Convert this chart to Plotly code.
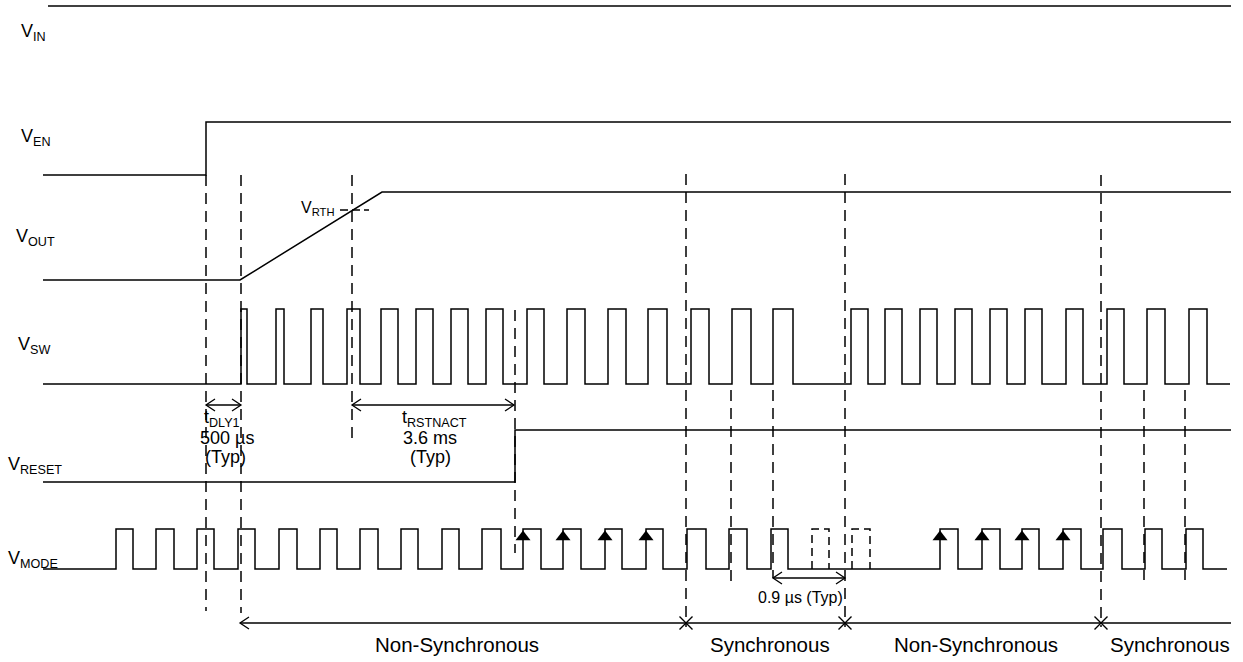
import plotly.graph_objects as go

# ---------------- data (diagram units: time -> x, level -> y) ----------------
T_START = 43
T_END = 1231

VIN_T0 = 48
VIN_LEVEL = 6

VEN_EDGE = 206
VEN_LOW, VEN_HIGH = 175, 122

VOUT_LOW, VOUT_HIGH = 280, 192
VOUT_RAMP_START, VOUT_RAMP_END = 240, 382
VRTH_T, VRTH_LEVEL = 352, 210

VSW_LOW, VSW_HIGH = 384, 309
VSW_RISE = [241, 276, 311, 347, 381, 416, 451, 486, 527, 567, 608, 648, 691, 732, 773,
            851, 885, 920, 955, 990, 1025, 1066, 1107, 1147, 1189]
VSW_FALL = [247, 284, 323, 360, 398, 433, 468, 503, 544, 585, 626, 667, 709, 751, 793,
            868, 902, 937, 972, 1007, 1042, 1083, 1124, 1165, 1207]
VSW_END = 1230

VRESET_EDGE = 515
VRESET_LOW, VRESET_HIGH = 482, 430

VMODE_LOW, VMODE_HIGH = 569, 529
VMODE_RISE = [116, 156, 197, 238, 279, 320, 360, 401, 442, 482, 523, 563, 605, 646, 687,
              729, 771, 940, 982, 1022, 1063, 1103, 1145, 1186]
VMODE_FALL = [133, 174, 214, 255, 297, 337, 378, 418, 459, 501, 541, 581, 622, 663, 706,
              747, 788, 958, 1000, 1039, 1081, 1122, 1162, 1203]
VMODE_DASH_RISE = [812, 852]
VMODE_DASH_FALL = [829, 870]
VMODE_ARROWS = [523, 563, 605, 646, 940, 982, 1022, 1063]
VMODE_END = 1227

# dashed markers: (time, top, bottom)
MARK_T = [206, 241, 352, 515, 686, 731, 773, 845, 1101, 1144, 1185]
MARK_TOP = [175, 175, 175, 310, 174, 390, 390, 174, 175, 390, 390]
MARK_BOT = [611, 613, 442, 553, 627, 583, 578, 627, 627, 580, 580]

# timing arrows
TDLY1 = (206, 241, 405)
TRST = (352, 514, 405)
T09 = (773, 845, 578)
MODE_LINE = (240, 1231, 623)
MODE_BOUNDS = [686, 845, 1101]

SIGNAL_NAMES = ["V<sub>IN</sub>", "V<sub>EN</sub>", "V<sub>OUT</sub>", "V<sub>SW</sub>",
                "V<sub>RESET</sub>", "V<sub>MODE</sub>"]
SIGNAL_LABEL_X = [19, 19, 14, 16, 6, 6]
SIGNAL_LABEL_Y = [32, 137, 237, 345, 465, 559]

MODE_NAMES = ["Non-Synchronous", "Synchronous", "Non-Synchronous", "Synchronous"]
MODE_NAME_X = [457, 770, 976, 1170]
MODE_NAME_Y = 644

FONT = "Arial, Liberation Sans, Helvetica, sans-serif"
LW = 1.5
DASH = "11px,7px"

fig = go.Figure()


def line(xs, ys, dash=None, width=LW):
    fig.add_trace(go.Scatter(x=xs, y=ys, mode="lines",
                             line=dict(color="black", width=width, dash=dash),
                             hoverinfo="skip", showlegend=False, cliponaxis=False))


def pulses(rises, falls, low, high, start, end):
    xs, ys = [start], [low]
    for r, f in zip(rises, falls):
        xs += [r, r, f, f]
        ys += [low, high, high, low]
    xs.append(end)
    ys.append(low)
    return xs, ys


# V_IN
line([VIN_T0, T_END], [VIN_LEVEL, VIN_LEVEL])
# V_EN
line([T_START, VEN_EDGE, VEN_EDGE, T_END], [VEN_LOW, VEN_LOW, VEN_HIGH, VEN_HIGH])
# V_OUT
line([T_START, VOUT_RAMP_START, VOUT_RAMP_END, T_END], [VOUT_LOW, VOUT_LOW, VOUT_HIGH, VOUT_HIGH])
line([VRTH_T - 12, VRTH_T + 17], [VRTH_LEVEL, VRTH_LEVEL], dash="8px,4px")
# V_SW
x, y = pulses(VSW_RISE, VSW_FALL, VSW_LOW, VSW_HIGH, T_START, VSW_END)
line(x, y)
# V_RESET
line([T_START, VRESET_EDGE, VRESET_EDGE, T_END], [VRESET_LOW, VRESET_LOW, VRESET_HIGH, VRESET_HIGH])
# V_MODE
x, y = pulses(VMODE_RISE, VMODE_FALL, VMODE_LOW, VMODE_HIGH, T_START, VMODE_END)
line(x, y)
for r, f in zip(VMODE_DASH_RISE, VMODE_DASH_FALL):
    line([r, r, f, f], [VMODE_LOW, VMODE_HIGH, VMODE_HIGH, VMODE_LOW], dash="8px,5px")
fig.add_trace(go.Scatter(x=VMODE_ARROWS, y=[VMODE_HIGH + 8] * len(VMODE_ARROWS), mode="markers",
                         marker=dict(symbol="triangle-up", size=13, color="black"),
                         hoverinfo="skip", showlegend=False))

# dashed time markers
for t, a, b in zip(MARK_T, MARK_TOP, MARK_BOT):
    line([t, t], [a, b], dash=DASH)


def head(xtip, y, direction):
    d = 9 * direction
    line([xtip + d, xtip, xtip + d], [y - 6, y, y + 6], width=1.3)


for (a, b, yy) in [TDLY1, TRST, T09]:
    line([a, b], [yy, yy], width=1.3)
    head(a, yy, 1)
    head(b, yy, -1)

a, b, yy = MODE_LINE
line([a, b], [yy, yy], width=1.3)
head(a, yy, 1)
fig.add_trace(go.Scatter(x=MODE_BOUNDS, y=[yy] * len(MODE_BOUNDS), mode="markers",
                         marker=dict(symbol="x-thin", size=13, line=dict(color="black", width=1.4)),
                         hoverinfo="skip", showlegend=False))

# ---------------- text ----------------
ann = []
for name, lx, ly in zip(SIGNAL_NAMES, SIGNAL_LABEL_X, SIGNAL_LABEL_Y):
    ann.append(dict(x=lx, y=ly, text=name, xanchor="left", yanchor="middle",
                    font=dict(size=18)))
ann.append(dict(x=317, y=208, text="V<sub>RTH</sub>", xanchor="center", yanchor="middle",
                font=dict(size=16)))
for txt, tx, ty in [("t<sub>DLY1</sub>", 222, 418), ("500 µs", 227, 438), ("(Typ)", 225, 457),
                    ("t<sub>RSTNACT</sub>", 434, 418), ("3.6 ms", 430, 438), ("(Typ)", 430, 457)]:
    ann.append(dict(x=tx, y=ty, text=txt, xanchor="center", yanchor="middle", font=dict(size=18)))
ann.append(dict(x=800, y=597, text="0.9 µs (Typ)", xanchor="center", yanchor="middle",
                font=dict(size=16)))
for name, mx in zip(MODE_NAMES, MODE_NAME_X):
    ann.append(dict(x=mx, y=MODE_NAME_Y, text=name, xanchor="center", yanchor="middle",
                    font=dict(size=20.5)))
for a_ in ann:
    a_.update(showarrow=False, xref="x", yref="y")
    a_["font"].update(family=FONT, color="black")

W, H = 1243, 662
fig.update_layout(
    width=W, height=H,
    margin=dict(l=0, r=0, t=0, b=0),
    paper_bgcolor="white", plot_bgcolor="white",
    xaxis=dict(range=[0, W], visible=False, fixedrange=True),
    yaxis=dict(range=[H, 0], visible=False, fixedrange=True),
    annotations=ann,
)

fig.write_html("out.html", config={"displayModeBar": False},
               post_script="document.body.style.margin='0px';document.body.style.overflow='hidden';")
